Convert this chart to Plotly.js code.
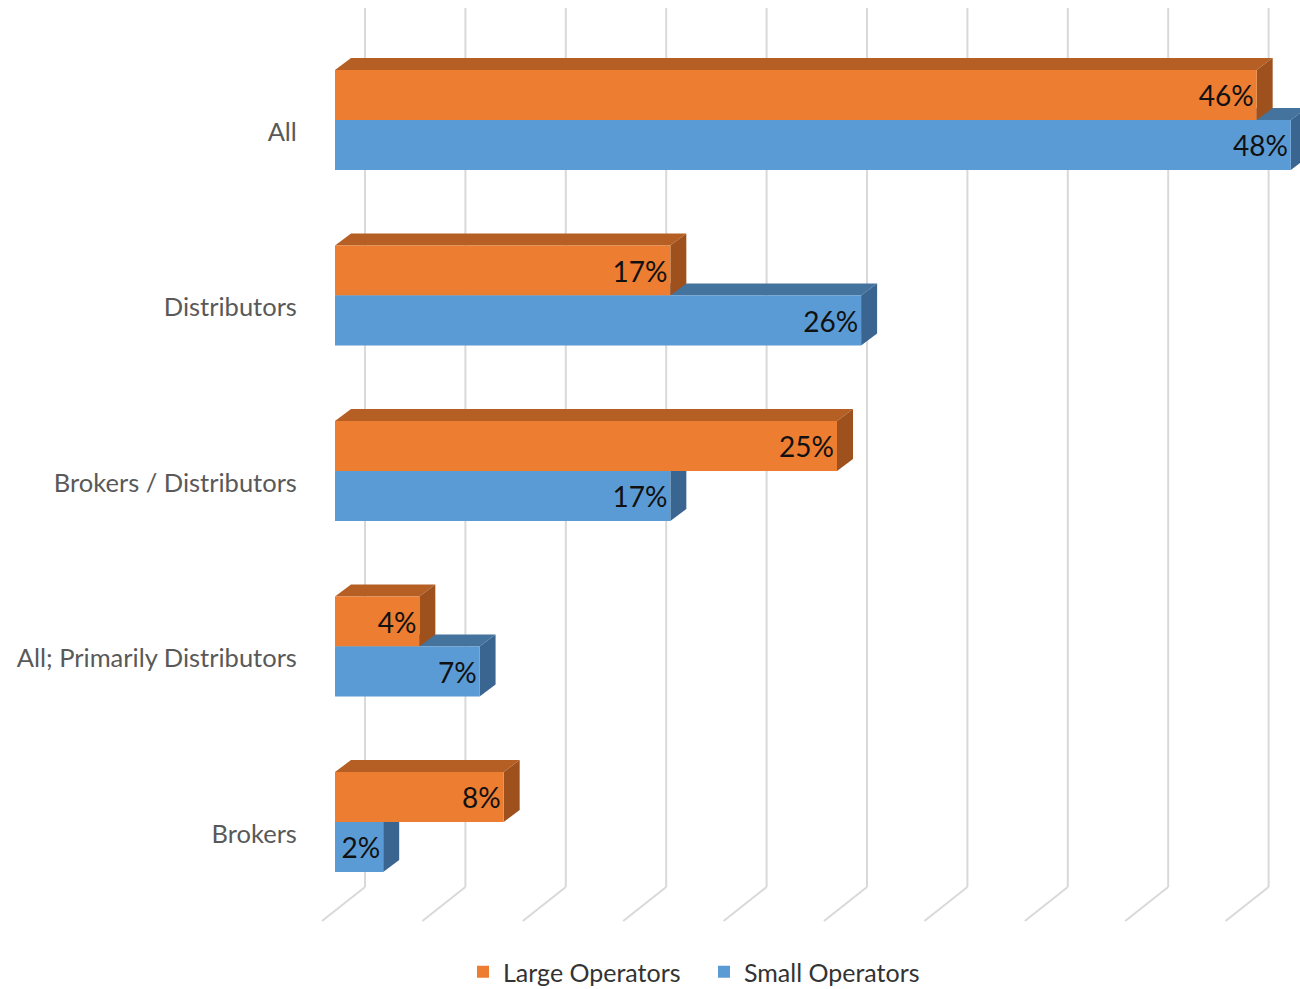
<!DOCTYPE html>
<html><head><meta charset="utf-8">
<script src="https://cdn.plot.ly/plotly-3.0.1.min.js"></script>
<style>html,body{margin:0;padding:0;background:#fff}</style>
</head><body><div id="chart" style="width:1300px;height:989px"></div>
<script>
// ---- data ----
const categories = ["All", "Distributors", "Brokers / Distributors", "All; Primarily Distributors", "Brokers"];
const largeOperators = [45.9, 16.7, 25.0, 4.2, 8.4];
const smallOperators = [47.6, 26.2, 16.7, 7.2, 2.4];
const seriesNames = ["Large Operators", "Small Operators"];
const gridTicks = [0, 5, 10, 15, 20, 25, 30, 35, 40, 45];

// ---- geometry (pixels) ----
const W = 1300, H = 989;
const M = {l: 315, r: 0, t: 0, b: 59, autoexpand: false};
const plotW = W - M.l - M.r, plotH = H - M.t - M.b;
const pxPerPct = 20.08;
const pxPerCat = 175.5;
const firstCenterPx = 120;
const xMin = -20 / pxPerPct;
const xMax = xMin + plotW / pxPerPct;
const yTop = -firstCenterPx / pxPerCat;
const yBot = yTop + plotH / pxPerCat;
const dx = p => p / pxPerPct;
const dy = p => p / pxPerCat;      // positive = downward (reversed axis)
const yAtPx = p => (p - firstCenterPx) / pxPerCat;

const barPx = 50;
const bw = dy(barPx);
const depthX = dx(16), depthY = dy(12);

const colors = {
  large: {front: "#ED7D31", top: "#B65F25", side: "#9E511D"},
  small: {front: "#5B9BD5", top: "#44739E", side: "#3A6590"}
};

const pos = categories.map((c, i) => i);
const pct = v => Math.round(v) + "%";

const dataFont = {family: "Lato, 'Open Sans', sans-serif", size: 28, color: "#111111"};

const traces = [
  {type: "bar", orientation: "h", name: seriesNames[0], y: pos, x: largeOperators,
   marker: {color: colors.large.front}, text: largeOperators.map(pct),
   textposition: "inside", insidetextanchor: "end", textangle: 0,
   insidetextfont: dataFont, hoverinfo: "skip"},
  {type: "bar", orientation: "h", name: seriesNames[1], y: pos, x: smallOperators,
   marker: {color: colors.small.front}, text: smallOperators.map(pct),
   textposition: "inside", insidetextanchor: "end", textangle: 0,
   insidetextfont: dataFont, hoverinfo: "skip"}
];

const shapes = [];
const P = pts => "M" + pts.map(p => p[0] + "," + p[1]).join(" L") + " Z";

// gridlines (back wall + floor)
const gridTopY = yAtPx(8), gridBackY = yAtPx(887), floorFrontY = yAtPx(921);
gridTicks.forEach(t => {
  const bx = t + dx(30), fx = t + dx(-13);
  shapes.push({type: "line", xref: "x", yref: "y", x0: bx, x1: bx, y0: gridTopY, y1: gridBackY,
               line: {color: "#d9d9d9", width: 2}, layer: "below"});
  shapes.push({type: "line", xref: "x", yref: "y", x0: bx, x1: fx, y0: gridBackY, y1: floorFrontY,
               line: {color: "#d9d9d9", width: 2}, layer: "below"});
});

// 3D faces: small (lower bar) first, then large (upper bar)
function addFaces(values, yOffset, c) {
  values.forEach((v, i) => {
    const y0 = pos[i] + yOffset, y1 = y0 + bw;
    shapes.push({type: "path", xref: "x", yref: "y", layer: "below", line: {width: 0},
      fillcolor: c.top,
      path: P([[0, y0], [v, y0], [v + depthX, y0 - depthY], [depthX, y0 - depthY]])});
    shapes.push({type: "path", xref: "x", yref: "y", layer: "below", line: {width: 0},
      fillcolor: c.side,
      path: P([[v, y0], [v + depthX, y0 - depthY], [v + depthX, y1 - depthY], [v, y1]])});
  });
}
addFaces(smallOperators, 0, colors.small);
addFaces(largeOperators, -bw, colors.large);

const layout = {
  width: W, height: H, margin: M,
  paper_bgcolor: "#fff", plot_bgcolor: "rgba(0,0,0,0)",
  barmode: "group", bargap: 1 - 2 * bw, bargroupgap: 0,
  showlegend: true,
  legend: {orientation: "h", x: (704 - M.l) / plotW, xanchor: "center",
           y: -42 / plotH, yanchor: "middle", entrywidth: 196, entrywidthmode: "pixels",
           font: {family: "Lato, 'Open Sans', sans-serif", size: 25, color: "#333333"},
           traceorder: "normal"},
  xaxis: {range: [xMin, xMax], showgrid: false, zeroline: false, showticklabels: false,
          showline: false, ticks: "", fixedrange: true},
  yaxis: {range: [yBot, yTop], showgrid: false, zeroline: false, showline: false,
          tickmode: "array", tickvals: pos.map(p => p + dy(12)), ticktext: categories,
          ticks: "outside", ticklen: 12, tickcolor: "rgba(0,0,0,0)",
          tickfont: {family: "Lato, 'Open Sans', sans-serif", size: 25.5, color: "#595959"},
          fixedrange: true},
  shapes: shapes
};

Plotly.newPlot("chart", traces, layout, {displayModeBar: false, staticPlot: true});
</script></body></html>
